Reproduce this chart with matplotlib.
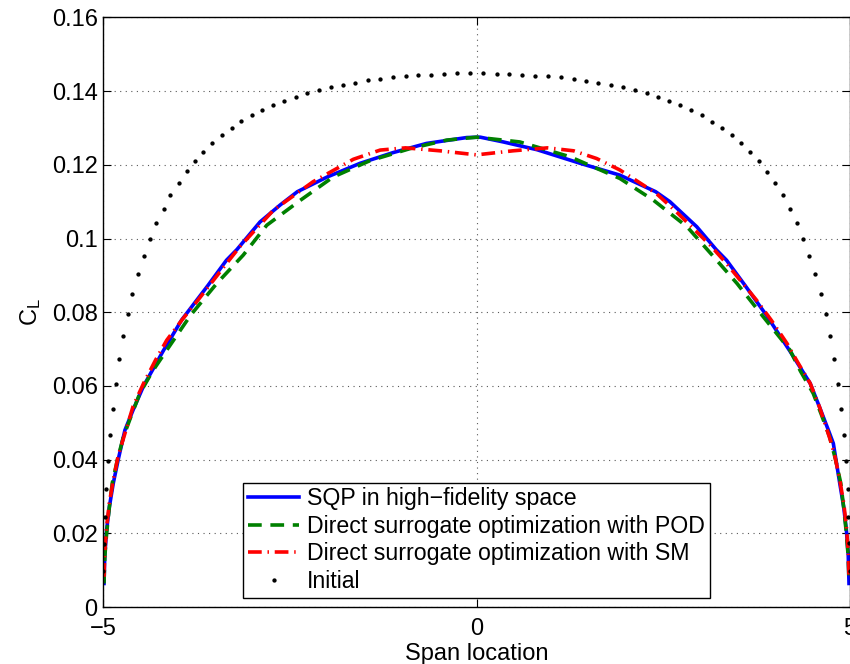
import matplotlib
matplotlib.use("Agg")
import matplotlib.pyplot as plt

plt.rcParams["font.family"] = ["Liberation Sans", "DejaVu Sans"]
plt.rcParams["mathtext.fontset"] = "custom"
plt.rcParams["mathtext.rm"] = "Liberation Sans"
plt.rcParams["mathtext.it"] = "Liberation Sans"

# SQP in high-fidelity space
sqp_x = [-4.99, -4.98, -4.955, -4.92, -4.866, -4.80, -4.71, -4.60, -4.46, -4.20,
         -3.95, -3.60, -3.35, -3.21, -2.90, -2.63, -2.40,
         -2.00, -1.56, -1.12, -0.67, -0.13, 0.05, 0.36, 0.81, 1.39, 1.92,
         2.40, 2.59, 2.95, 3.21, 3.35, 3.60, 3.89, 4.20, 4.47, 4.60, 4.71, 4.78,
         4.866, 4.92, 4.955, 4.98, 4.99]
sqp_y = [0.0064, 0.0140, 0.0209, 0.0270, 0.0336, 0.0400, 0.0480, 0.0535, 0.0600, 0.0694,
         0.0779, 0.0872, 0.0941, 0.0970, 0.1045, 0.1091, 0.1127,
         0.1167, 0.1204, 0.1233, 0.1258, 0.1274, 0.1275, 0.1262, 0.1241, 0.1204, 0.1172,
         0.1127, 0.1100, 0.1032, 0.0970, 0.0941, 0.0872, 0.0790, 0.0694, 0.0607, 0.0540, 0.0482, 0.0444,
         0.0336, 0.0270, 0.0209, 0.0140, 0.0064]

# direct surrogate optimization with POD
pod_x = [-4.99, -4.98, -4.955, -4.92, -4.88, -4.81, -4.73, -4.62, -4.51, -4.34, -4.15,
         -3.83, -3.48, -3.125, -2.81,
         -2.365, -1.92, -1.43, -0.89, -0.40, 0.0, 0.58, 1.25, 1.92, 2.37,
         2.82, 3.17, 3.49, 3.84, 4.20, 4.34, 4.51, 4.62, 4.73, 4.81, 4.88,
         4.92, 4.955, 4.98, 4.99]
pod_y = [0.0064, 0.0135, 0.0200, 0.0268, 0.0336, 0.0400, 0.0462, 0.0522, 0.0580, 0.0640, 0.0697,
         0.0792, 0.0878, 0.0955, 0.1036,
         0.1103, 0.1167, 0.1211, 0.1244, 0.1267, 0.1275, 0.1262, 0.1222, 0.1163, 0.1104,
         0.1032, 0.0952, 0.0878, 0.0788, 0.0697, 0.0640, 0.0580, 0.0522, 0.0462, 0.0400, 0.0336,
         0.0268, 0.0200, 0.0135, 0.0064]

# direct surrogate optimization with SM
sm_x = [-4.99, -4.98, -4.955, -4.92, -4.866, -4.80, -4.71, -4.60, -4.46, -4.30, -4.15,
        -3.95, -3.75, -3.35, -3.17, -2.72,
        -2.19, -1.65, -1.29, -0.95, -0.49, 0.0, 0.49, 0.95, 1.30, 1.61,
        1.92, 2.41, 2.68, 3.13, 3.35, 3.75, 3.95, 4.16, 4.30, 4.47, 4.60, 4.74,
        4.80, 4.866, 4.92, 4.955, 4.98, 4.99]
sm_y = [0.0082, 0.0150, 0.0218, 0.0281, 0.0345, 0.0410, 0.0471, 0.0545, 0.0607, 0.0670, 0.0724,
        0.0778, 0.0828, 0.0932, 0.0978, 0.1077,
        0.1154, 0.1215, 0.1240, 0.1246, 0.1238, 0.1227, 0.1238, 0.1246, 0.1238, 0.1217,
        0.1186, 0.1122, 0.1072, 0.0982, 0.0932, 0.0833, 0.0778, 0.0715, 0.0665, 0.0607, 0.0540, 0.0453,
        0.0410, 0.0345, 0.0281, 0.0218, 0.0150, 0.0082]

# initial distribution
init_x = [-5.00, -4.99, -4.98, -4.96, -4.94, -4.91, -4.87, -4.83, -4.79, -4.73,
          -4.67, -4.61, -4.54, -4.46, -4.37, -4.29, -4.19, -4.10, -3.99, -3.88,
          -3.77, -3.66, -3.54, -3.41, -3.28, -3.15, -3.01, -2.87, -2.73, -2.58,
          -2.42, -2.27, -2.11, -1.95, -1.79, -1.63, -1.46, -1.29, -1.12, -0.95,
          -0.78, -0.61, -0.44, -0.26, -0.09,
          0.09, 0.27, 0.44, 0.61, 0.78, 0.96, 1.13, 1.30, 1.47, 1.63,
          1.80, 1.96, 2.12, 2.28, 2.43, 2.58, 2.73, 2.87, 3.02, 3.16,
          3.29, 3.42, 3.54, 3.66, 3.78, 3.89, 4.00, 4.10, 4.20, 4.29,
          4.38, 4.46, 4.54, 4.61, 4.68, 4.74, 4.79, 4.84, 4.88, 4.92,
          4.95, 4.97, 4.98, 4.99, 5.00]
init_y = [0.0099, 0.0170, 0.0245, 0.0321, 0.0396, 0.0468, 0.0538, 0.0606, 0.0673, 0.0735,
          0.0795, 0.0850, 0.0903, 0.0953, 0.0998, 0.1042, 0.1081, 0.1117, 0.1151, 0.1182,
          0.1211, 0.1236, 0.1260, 0.1281, 0.1300, 0.1318, 0.1334, 0.1348, 0.1362, 0.1373,
          0.1384, 0.1394, 0.1403, 0.1411, 0.1417, 0.1423, 0.1429, 0.1433, 0.1438, 0.1441,
          0.1443, 0.1445, 0.1447, 0.1448, 0.1449,
          0.1449, 0.1447, 0.1446, 0.1445, 0.1442, 0.1440, 0.1437, 0.1432, 0.1428, 0.1422,
          0.1417, 0.1411, 0.1403, 0.1394, 0.1384, 0.1373, 0.1362, 0.1348, 0.1334, 0.1317,
          0.1300, 0.1280, 0.1260, 0.1235, 0.1210, 0.1181, 0.1151, 0.1117, 0.1081, 0.1042,
          0.0998, 0.0952, 0.0903, 0.0850, 0.0795, 0.0735, 0.0673, 0.0606, 0.0538, 0.0468,
          0.0396, 0.0321, 0.0245, 0.0173, 0.0099]

x_ticks = [-5, 0, 5]
y_ticks = [0, 0.02, 0.04, 0.06, 0.08, 0.1, 0.12, 0.14, 0.16]
y_tick_labels = ["0", "0.02", "0.04", "0.06", "0.08", "0.1", "0.12", "0.14", "0.16"]

fig = plt.figure(figsize=(8.5, 6.64), dpi=100)
ax = fig.add_axes([0.1215, 0.0858, 0.8782, 0.888])

ax.plot(sqp_x, sqp_y, "-", color=(0, 0, 1), lw=2.6, label="SQP in high\u2212fidelity space")
ax.plot(pod_x, pod_y, color=(0, 0.5, 0), lw=2.6, linestyle=(0, (3.8, 2.4)),
        label="Direct surrogate optimization with POD")
ax.plot(sm_x, sm_y, color=(1, 0, 0), lw=2.6, linestyle=(0, (3.8, 1.6, 0.4, 1.6)),
        label="Direct surrogate optimization with SM")
ax.plot(init_x, init_y, ".", color="k", markersize=4.2, label="Initial")

ax.set_xlim(-5, 5)
ax.set_ylim(0, 0.16)
ax.set_xticks(x_ticks)
ax.set_xticklabels([str(t).replace("-", "\u2212") for t in x_ticks])
ax.set_yticks(y_ticks)
ax.set_yticklabels(y_tick_labels)
ax.tick_params(direction="in", length=6, width=0.8, labelsize=17, pad=4,
               top=True, right=True)
ax.tick_params(axis="x", pad=8)
for s in ax.spines.values():
    s.set_linewidth(1.0)

ax.grid(True, color="0.35", linestyle=(0, (1, 4)), linewidth=0.8)
ax.set_axisbelow(True)

ax.set_xlabel("Span location", fontsize=17, labelpad=2)
ax.set_ylabel("C$_\\mathregular{L}$", fontsize=17, labelpad=6)

leg = ax.legend(loc="lower center", bbox_to_anchor=(0.5, 0.0), fontsize=16.7,
                numpoints=1, handlelength=2.2, handletextpad=0.35,
                labelspacing=0.2, borderpad=0.2, borderaxespad=0.4,
                fancybox=False, edgecolor="k", framealpha=1)
leg.get_frame().set_linewidth(1.0)

fig.savefig("out.png", dpi=100)
